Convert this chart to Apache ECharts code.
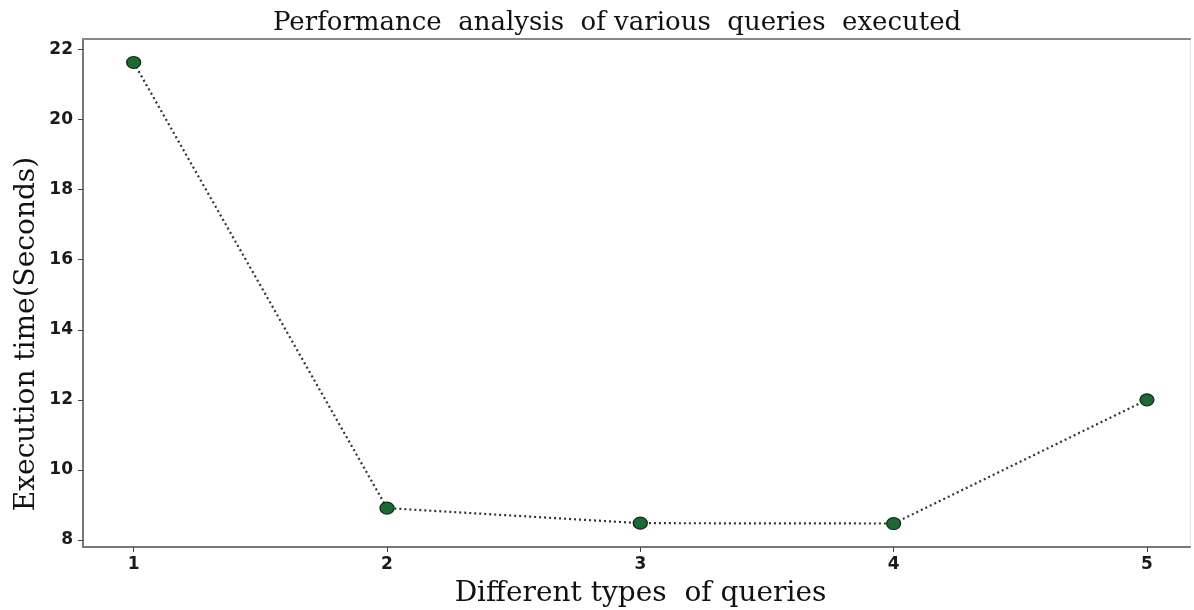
<!DOCTYPE html>
<html>
<head>
<meta charset="utf-8">
<script src="https://cdn.jsdelivr.net/npm/echarts@6/dist/echarts.min.js"></script>
<style>
  html, body { margin: 0; padding: 0; background: #fff; }
  #main { width: 1194px; height: 610px; }
</style>
</head>
<body>
<div id="main"></div>
<script>
// query type on x, execution time on y
var queryTypes = [1, 2, 3, 4, 5];
var execTimes = [21.63, 8.91, 8.48, 8.47, 12.0];
var yTicks = [8, 10, 12, 14, 16, 18, 20, 22];

var chart = echarts.init(document.getElementById("main"));

var points = queryTypes.map(function (q, i) {
  return [q, execTimes[i]];
});

var serif = "'DejaVu Serif', 'Liberation Serif', serif";
var tickFont = {
  color: "#1a1a1a",
  fontSize: 17,
  fontWeight: "bold",
  fontFamily: "'DejaVu Sans', sans-serif",
};

var option = {
  backgroundColor: "#ffffff",
  animation: false,
  title: {
    text: "Performance  analysis  of various  queries  executed",
    left: 268,
    top: 5,
    textStyle: {
      fontFamily: serif,
      fontWeight: "normal",
      fontSize: 26,
      color: "#111",
    },
  },
  graphic: [
    {
      type: "text",
      x: 27,
      y: 334,
      rotation: Math.PI / 2,
      style: {
        text: "Execution time(Seconds)",
        fontFamily: serif,
        fontSize: 28,
        fill: "#111",
        align: "center",
        verticalAlign: "middle",
      },
    },
  ],
  grid: {
    left: 83,
    top: 39,
    right: 4,
    bottom: 63,
    outerBoundsMode: "none",
    containLabel: false,
  },
  xAxis: [
    {
      type: "value",
      min: 0.8,
      max: 5.17,
      name: "Different types  of queries",
      nameLocation: "middle",
      nameGap: 33,
      nameTextStyle: {
        fontFamily: serif,
        fontSize: 28,
        color: "#111",
        padding: [0, 0, 0, 8],
      },
      axisLine: { show: true, lineStyle: { color: "#777", width: 2 } },
      axisTick: { show: true, length: 5, lineStyle: { color: "#444" }, customValues: queryTypes },
      splitLine: { show: false },
      axisLabel: Object.assign({
        margin: 9,
        customValues: queryTypes,
      }, tickFont),
    },
    {
      type: "value",
      position: "top",
      min: 0.8,
      max: 5.17,
      axisLine: { show: true, lineStyle: { color: "#888", width: 2 } },
      axisTick: { show: false },
      axisLabel: { show: false },
      splitLine: { show: false },
    },
  ],
  yAxis: [
    {
      type: "value",
      min: 7.8,
      max: 22.3,
      axisLine: { show: true, lineStyle: { color: "#777", width: 2 } },
      axisTick: { show: true, length: 5, lineStyle: { color: "#444" }, customValues: yTicks },
      splitLine: { show: false },
      axisLabel: Object.assign({
        margin: 10,
        customValues: yTicks,
      }, tickFont),
    },
    {
      type: "value",
      position: "right",
      min: 7.8,
      max: 22.3,
      axisLine: { show: true, lineStyle: { color: "#e4e4e4", width: 1 } },
      axisTick: { show: false },
      axisLabel: { show: false },
      splitLine: { show: false },
    },
  ],
  series: [
    {
      type: "line",
      data: points,
      symbol: "circle",
      symbolSize: [14, 12],
      lineStyle: {
        color: "#333",
        width: 2.2,
        type: [2, 3],
      },
      itemStyle: {
        color: "#1b6a34",
        borderColor: "#0d2a14",
        borderWidth: 1.2,
      },
      z: 3,
    },
  ],
};

chart.setOption(option);
</script>
</body>
</html>
